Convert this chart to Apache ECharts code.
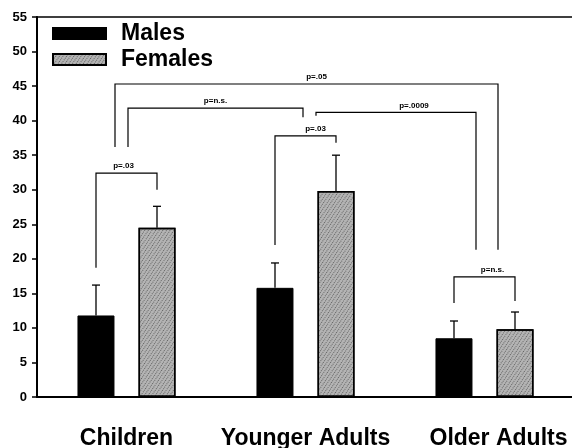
<!DOCTYPE html>
<html>
<head>
<meta charset="utf-8">
<script src="https://cdn.jsdelivr.net/npm/echarts@6/dist/echarts.min.js"></script>
<style>
  html, body { margin: 0; padding: 0; background: #fff; }
  #chart { width: 572px; height: 448px; }
</style>
</head>
<body>
<div id="chart"></div>
<script>
// age groups
var categories = ['Children', 'Younger Adults', 'Older Adults']
var yTicks = [0, 5, 10, 15, 20, 25, 30, 35, 40, 45, 50, 55]

// group means and upper error (SD)
var males = [11.8, 15.8, 8.5]
var malesErr = [4.4, 3.6, 2.5]
var females = [24.5, 29.8, 9.8]
var femalesErr = [3.1, 5.2, 2.5]

// significance brackets: which groups, bracket height, leg ends
var bracketLabels = ['p=.03', 'p=.03', 'p=n.s.', 'p=.05', 'p=.0009', 'p=n.s.']
var bracketFrom = [0, 1, 0, 0, 1, 2]
var bracketTo = [0, 1, 1, 2, 2, 2]
var bracketTops = [32.4, 37.8, 41.8, 45.3, 41.2, 17.4]
var bracketLeftEnds = [18.7, 22.0, 36.2, 36.2, 40.7, 13.6]
var bracketRightEnds = [30.0, 36.8, 40.5, 21.3, 21.3, 13.9]

var FONT = 'Liberation Sans, Arial, sans-serif'
var BAR_W = 37
var BAR_OFF = 30.5 // half of bar + gap

// where each bracket leg sits: m = male bar, f = female bar, g = group centre (+ px nudge)
var legSide = [['m', 'f'], ['m', 'f'], ['g', 'g'], ['g', 'g'], ['g', 'g'], ['m', 'f']]
var legNudge = [[0, 0], [0, 0], [1.5, -2.5], [-11.5, 13.5], [10.5, -8.5], [0, 0]]
var labelNudge = [-3, 10, 0, 10, 18, 8]

function sideShift (s) {
  if (s === 'm') return -BAR_OFF
  if (s === 'f') return BAR_OFF
  return 0
}

var errData = []
for (var i = 0; i < categories.length; i++) {
  errData.push([i, 0, males[i], males[i] + malesErr[i]])
  errData.push([i, 1, females[i], females[i] + femalesErr[i]])
}

var bracketData = bracketLabels.map(function (l, k) {
  return [bracketFrom[k], bracketTo[k], bracketTops[k], bracketLeftEnds[k], bracketRightEnds[k]]
})

function renderErr (params, api) {
  var sex = api.value(1)
  var base = api.coord([api.value(0), api.value(2)])
  var top = api.coord([api.value(0), api.value(3)])
  var x = base[0] + (sex === 0 ? -BAR_OFF : BAR_OFF)
  var style = { stroke: '#000', lineWidth: 1.3 }
  return {
    type: 'group',
    children: [
      { type: 'line', shape: { x1: x, y1: base[1], x2: x, y2: top[1] }, style: style },
      { type: 'line', shape: { x1: x - 4, y1: top[1], x2: x + 4, y2: top[1] }, style: style }
    ]
  }
}

function renderBracket (params, api) {
  var k = params.dataIndex
  var xl = api.coord([api.value(0), 0])[0] + sideShift(legSide[k][0]) + legNudge[k][0]
  var xr = api.coord([api.value(1), 0])[0] + sideShift(legSide[k][1]) + legNudge[k][1]
  var yt = api.coord([0, api.value(2)])[1]
  var yl = api.coord([0, api.value(3)])[1]
  var yr = api.coord([0, api.value(4)])[1]
  return {
    type: 'group',
    children: [
      {
        type: 'polyline',
        shape: { points: [[xl, yl], [xl, yt], [xr, yt], [xr, yr]] },
        style: { stroke: '#000', lineWidth: 1.2, fill: null }
      },
      {
        type: 'text',
        style: {
          text: bracketLabels[k],
          x: (xl + xr) / 2 + labelNudge[k],
          y: yt - 3,
          align: 'center',
          verticalAlign: 'bottom',
          font: 'bold 8px ' + FONT,
          fill: '#000'
        }
      }
    ]
  }
}

var myChart = echarts.init(document.getElementById('chart'))
var option = {
  animation: false,
  backgroundColor: '#fff',
  grid: {
    left: 37, right: -2, top: 17, bottom: 51,
    outerBoundsMode: 'none',
    containLabel: false,
    show: true, borderColor: '#000', borderWidth: 1.5
  },
  legend: {
    orient: 'vertical',
    left: 52,
    top: 22,
    itemWidth: 53,
    itemHeight: 11,
    itemGap: 3,
    padding: 0,
    textStyle: {
      fontFamily: FONT, fontWeight: 'bold', fontSize: 23, color: '#000',
      lineHeight: 20, padding: [0, 0, 0, 10]
    },
    data: [
      { name: 'Males', icon: 'rect' },
      { name: 'Females', icon: 'rect' }
    ]
  },
  xAxis: {
    type: 'category',
    data: categories,
    axisLine: { lineStyle: { color: '#000', width: 2 } },
    axisTick: { show: false },
    axisLabel: {
      margin: 30,
      interval: 0,
      color: '#000',
      formatter: function (v, i) {
        return i === 2 ? '{o|' + v + '}' : '{a|' + v + '}'
      },
      rich: {
        a: { fontFamily: FONT, fontWeight: 'bold', fontSize: 23, color: '#000' },
        o: { fontFamily: FONT, fontWeight: 'bold', fontSize: 23, color: '#000', padding: [0, 0, 0, 28] }
      }
    }
  },
  yAxis: {
    type: 'value',
    min: yTicks[0],
    max: yTicks[yTicks.length - 1],
    interval: 5,
    splitLine: { show: false },
    axisLine: { show: true, lineStyle: { color: '#000', width: 2 } },
    axisTick: { show: true, length: 5, lineStyle: { color: '#000', width: 1.5 } },
    axisLabel: { margin: 10, color: '#000', fontFamily: FONT, fontWeight: 'bold', fontSize: 13 }
  },
  series: [
    {
      name: 'Males',
      type: 'bar',
      data: males,
      barWidth: BAR_W,
      barGap: '65%',
      itemStyle: { color: '#000', borderColor: '#000', borderWidth: 1 }
    },
    {
      name: 'Females',
      type: 'bar',
      data: females,
      barWidth: BAR_W,
      itemStyle: {
        color: '#b4b4b4',
        borderColor: '#000',
        borderWidth: 1.5,
        decal: {
          symbol: 'rect',
          symbolSize: 1,
          dashArrayX: [1, 2],
          dashArrayY: [1, 1],
          rotation: 0.6,
          color: 'rgba(0,0,0,0.45)'
        }
      }
    },
    {
      type: 'custom',
      renderItem: renderErr,
      data: errData,
      encode: { x: 0, y: 3 },
      clip: false,
      silent: true,
      z: 3
    },
    {
      type: 'custom',
      renderItem: renderBracket,
      data: bracketData,
      encode: { x: 0, y: 2 },
      clip: false,
      silent: true,
      z: 3
    }
  ]
}
myChart.setOption(option)
</script>
</body>
</html>
